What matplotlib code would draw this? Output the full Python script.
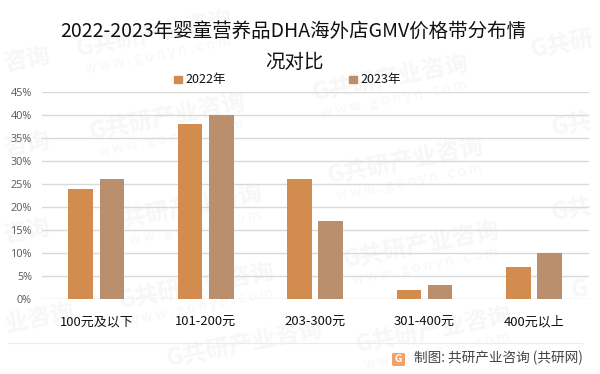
import matplotlib
matplotlib.use('Agg')
import matplotlib.pyplot as plt
from matplotlib.patches import FancyBboxPatch

plt.rcParams['font.family'] = ['Noto Sans CJK SC', 'DejaVu Sans']

categories = ['100元及以下', '101-200元', '203-300元', '301-400元', '400元以上']
values_2022 = [24, 38, 26, 2, 7]
values_2023 = [26, 40, 17, 3, 10]
y_ticks = [0, 5, 10, 15, 20, 25, 30, 35, 40, 45]

W, H = 600, 374
COLOR_2022 = '#D28C4E'
COLOR_2023 = '#BA8F6D'
GRID = '#D9D9D9'
MARK = '#F7F7F7'
BAR_W = 0.225
OFFSET = 0.143

fig = plt.figure(figsize=(W / 100, H / 100), dpi=100)
# оси в пикселях референса
ax = fig.add_axes([41.6 / W, 1 - 299 / H, 547 / W, 207 / H], zorder=2)

x = list(range(len(categories)))
ax.bar([i - OFFSET for i in x], values_2022, BAR_W, color=COLOR_2022, zorder=3)
ax.bar([i + OFFSET for i in x], values_2023, BAR_W, color=COLOR_2023, zorder=3)

ax.set_xlim(-0.5, 4.5)
ax.set_ylim(0, 45)
ax.set_yticks(y_ticks)
ax.set_yticklabels([f'{t}%' for t in y_ticks], fontsize=7.8, color='#595959', family=['Open Sans'])
ax.set_xticks(x)
ax.set_xticklabels(categories, fontsize=9.4, color='#111111')
ax.tick_params(axis='both', length=0)
ax.tick_params(axis='x', pad=12)
ax.tick_params(axis='y', pad=7)
ax.grid(axis='y', color=GRID, linewidth=1, zorder=1)
ax.set_axisbelow(True)
for s in ax.spines.values():
    s.set_visible(False)
ax.patch.set_alpha(0)

# водяные знаки: целые надписи и куски у края
for px, py in [(155, 34), (168, 117), (391, 78), (406, 161), (185, 208), (197, 286),
               (422, 245), (434, 330)]:
    fig.text(px / W, 1 - py / H, 'G共研产业咨询', ha='center', va='center', fontsize=17, rotation=11,
             color=MARK, fontweight='bold', zorder=0)
    fig.text((px + 3) / W, 1 - (py + 21) / H, 'w w w . g o n y n . c o m', ha='center', va='center',
             fontsize=10, rotation=11, color=MARK, zorder=0)
for px, py, piece in [(245, 344, 'G共研产业咨询'), (27, 60, '咨询'), (27, 145, '咨询'), (27, 232, '咨询'),
                      (40, 318, '业咨询'), (562, 45, 'G共研'), (572, 125, 'G共'), (572, 210, 'G共'),
                      (580, 290, 'G')]:
    fig.text(px / W, 1 - py / H, piece, ha='center', va='center', fontsize=17, rotation=11,
             color=MARK, fontweight='bold', zorder=0)

# заголовок
fig.text(293.5 / W, 1 - 31 / H, '2022-2023年婴童营养品DHA海外店GMV价格带分布情',
         ha='center', va='center', fontsize=14, color='#111111', zorder=3)
fig.text(294 / W, 1 - 62 / H, '况对比', ha='center', va='center', fontsize=14, color='#111111', zorder=3)

# легенда
for px, label, color in [(174, '2022年', COLOR_2022), (349, '2023年', COLOR_2023)]:
    fig.patches.append(plt.Rectangle((px / W, 1 - 83 / H), 7.5 / W, 7.5 / H,
                                     transform=fig.transFigure, color=color, zorder=3))
    fig.text((px + 11) / W, 1 - 80 / H, label, ha='left', va='center', fontsize=9, color='#111111', zorder=3)

# нижняя линия и подпись
fig.add_artist(plt.Line2D([8 / W, 582 / W], [1 - 343 / H, 1 - 343 / H], color='#EBEBEB', linewidth=0.8))
logo = FancyBboxPatch((392 / W, 1 - 366 / H), 13 / W, 13 / H, transform=fig.transFigure,
                      boxstyle='round,pad=0,rounding_size=0.003', facecolor='#F2A268', edgecolor='none', zorder=3)
fig.patches.append(logo)
fig.text(398.5 / W, 1 - 359.5 / H, 'G', ha='center', va='center', fontsize=7.5, color='white',
         fontweight='bold', zorder=4)
fig.text(414 / W, 1 - 358 / H, '制图: 共研产业咨询 (共研网)', ha='left', va='center', fontsize=9.8,
         color='#444444', zorder=3)

fig.savefig('out.png', dpi=100)
